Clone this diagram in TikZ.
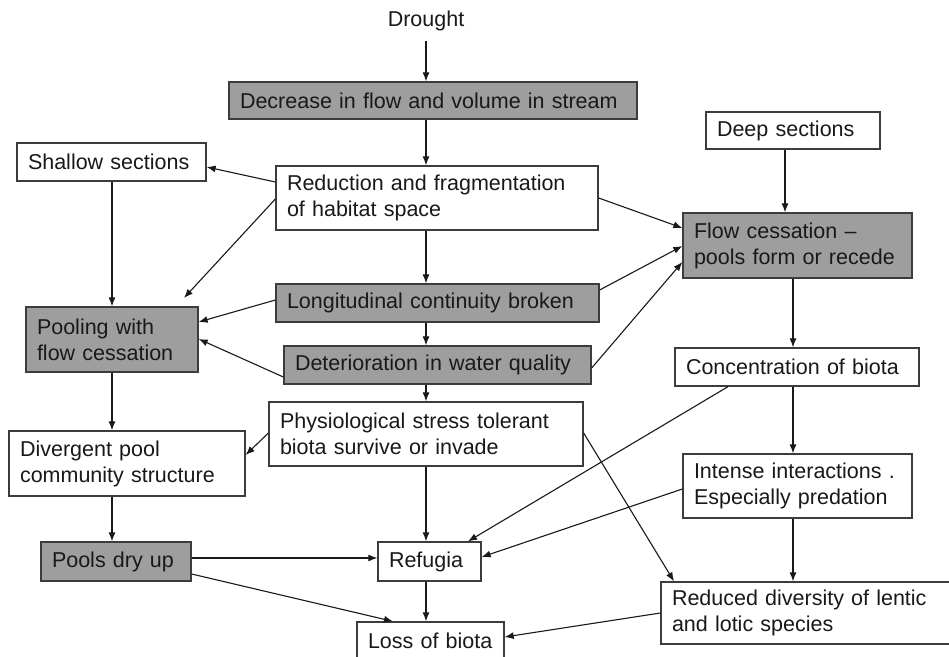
\documentclass[tikz,border=0pt]{standalone}
\usepackage{fontspec}
\setmainfont{Liberation Sans}
\usetikzlibrary{arrows.meta}
\definecolor{boxgray}{RGB}{158,158,158}
\definecolor{edge}{RGB}{60,60,60}
\definecolor{ink}{RGB}{25,25,25}
\tikzset{
  box/.style={draw=edge, line width=1.3pt, align=left, inner xsep=11pt, inner ysep=0pt,
              text=ink, font=\fontsize{21.5}{26}\selectfont, anchor=center},
  graybox/.style={box, fill=boxgray},
  whitebox/.style={box, fill=white},
  arr/.style={draw=ink, line width=1.1pt, -{Latex[length=9pt,width=7pt]}}
}
\newcommand{\bx}[7]{% style, name, left, top, right, bottom, text
  \pgfmathsetmacro{\bxw}{#5-#3}\pgfmathsetmacro{\bxh}{#6-#4}%
  \pgfmathsetmacro{\bxtw}{#5-#3-22}%
  \node[#1, minimum width=\bxw pt, minimum height=\bxh pt, text width=\bxtw pt] (#2) at ({(#3+#5)/2},{(#4+#6)/2}) {#7};}
\begin{document}
\begin{tikzpicture}[x=1pt,y=-1pt]
\clip (0,0) rectangle (949,656);
\fill[white] (0,0) rectangle (949,656);

\node[text=ink, font=\fontsize{21.5}{26}\selectfont, inner sep=0pt] (drought) at (426,21) {Drought};

\bx{graybox}{dec}{229}{82}{637}{119}{Decrease in flow and volume in stream}
\bx{whitebox}{shallow}{17}{143}{206}{181}{Shallow sections}
\bx{whitebox}{red}{276}{166}{598}{230}{Reduction and fragmentation\\of habitat space}
\bx{whitebox}{deep}{706}{112}{880}{149}{Deep sections}
\bx{graybox}{flow}{683}{213}{912}{278}{Flow cessation --\\pools form or recede}
\bx{graybox}{lon}{276}{284}{599}{322}{Longitudinal continuity broken}
\bx{graybox}{pool}{26}{307}{198}{372}{Pooling with\\flow cessation}
\bx{graybox}{det}{284}{346}{591}{384}{Deterioration in water quality}
\bx{whitebox}{conc}{675}{348}{919}{386}{Concentration of biota}
\bx{whitebox}{phys}{269}{402}{583}{466}{Physiological stress tolerant\\biota survive or invade}
\bx{whitebox}{div}{9}{431}{245}{496}{Divergent pool\\community structure}
\bx{whitebox}{int}{683}{454}{912}{518}{Intense interactions .\\Especially predation}
\bx{graybox}{pdu}{41}{542}{191}{581}{Pools dry up}
\bx{whitebox}{ref}{378}{542}{481}{581}{Refugia}
\bx{whitebox}{loss}{357}{622}{504}{660}{Loss of biota}
\bx{whitebox}{redu}{661}{582}{952}{644}{Reduced diversity of lentic\\and lotic species}

\coordinate (poolin) at (184,298);

\draw[arr] (426,41) -- (426,0 |- dec.north);
\draw[arr] (426,0 |- dec.south) -- (426,0 |- red.north);
\draw[arr] (red.west |- 0,182) -- (shallow.east |- 0,167);
\draw[arr] (red.west |- 0,199) -- (poolin);
\draw[arr] (426,0 |- red.south) -- (426,0 |- lon.north);
\draw[arr] (red.east |- 0,198) -- (flow.west |- 0,228);
\draw[arr] (112,0 |- shallow.south) -- (112,0 |- pool.north);
\draw[arr] (785,0 |- deep.south) -- (785,0 |- flow.north);
\draw[arr] (lon.west |- 0,300) -- (pool.east |- 0,322);
\draw[arr] (lon.east |- 0,290) -- (flow.west |- 0,246);
\draw[arr] (426,0 |- lon.south) -- (426,0 |- det.north);
\draw[arr] (det.west |- 0,377) -- (pool.east |- 0,339);
\draw[arr] (det.east |- 0,368) -- (flow.west |- 0,262);
\draw[arr] (426,0 |- det.south) -- (426,0 |- phys.north);
\draw[arr] (793,0 |- flow.south) -- (793,0 |- conc.north);
\draw[arr] (112,0 |- pool.south) -- (112,0 |- div.north);
\draw[arr] (phys.west |- 0,433) -- (div.east |- 0,455);
\draw[arr] (phys.east |- 0,433) -- (674,0 |- redu.north);
\draw[arr] (426,0 |- phys.south) -- (426,0 |- ref.north);
\draw[arr] (793,0 |- conc.south) -- (793,0 |- int.north);
\draw[arr] (728,0 |- conc.south) -- (468,0 |- ref.north);
\draw[arr] (int.west |- 0,489) -- (ref.east |- 0,557);
\draw[arr] (793,0 |- int.south) -- (793,0 |- redu.north);
\draw[arr] (112,0 |- div.south) -- (112,0 |- pdu.north);
\draw[arr] (pdu.east |- 0,558) -- (ref.west |- 0,558);
\draw[arr] (pdu.east |- 0,574) -- (393,0 |- loss.north);
\draw[arr] (426,0 |- ref.south) -- (426,0 |- loss.north);
\draw[arr] (redu.west |- 0,613) -- (loss.east |- 0,637);
\end{tikzpicture}
\end{document}
